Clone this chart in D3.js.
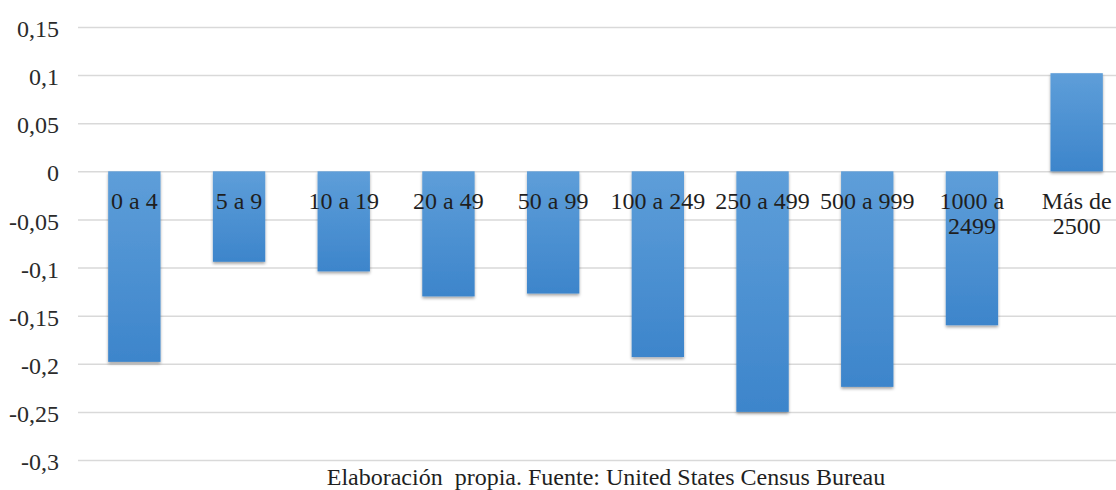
<!DOCTYPE html>
<html>
<head>
<meta charset="utf-8">
<script src="https://cdn.jsdelivr.net/npm/d3@7"></script>
<style>
  html, body { margin: 0; padding: 0; background: #fff; }
  svg { display: block; }
</style>
</head>
<body>
<script>
// Size classes (employees per establishment) and their change
const categories = ["0 a 4", "5 a 9", "10 a 19", "20 a 49", "50 a 99", "100 a 249",
                    "250 a 499", "500 a 999", "1000 a\n2499", "Más de\n2500"];
const values = [-0.198, -0.094, -0.104, -0.130, -0.127, -0.193, -0.250, -0.224, -0.160, 0.102];
const tickValues = [0.15, 0.1, 0.05, 0, -0.05, -0.1, -0.15, -0.2, -0.25, -0.3];
const caption = "Elaboración\u00a0 propia. Fuente: United States Census Bureau";

const W = 1116, H = 490;
const FONT = '"Liberation Serif", "Times New Roman", Times, serif';
const svg = d3.select("body").append("svg").attr("width", W).attr("height", H)
  .attr("font-family", FONT);

const defs = svg.append("defs");
const grad = defs.append("linearGradient").attr("id", "barFill")
  .attr("x1", 0).attr("y1", 0).attr("x2", 0).attr("y2", 1);
grad.append("stop").attr("offset", "0%").attr("stop-color", "#5e9ed9");
grad.append("stop").attr("offset", "100%").attr("stop-color", "#3d85cb");

const shadow = defs.append("filter").attr("id", "barShadow")
  .attr("x", "-20%").attr("y", "-10%").attr("width", "140%").attr("height", "130%");
shadow.append("feDropShadow").attr("dx", 0).attr("dy", 2).attr("stdDeviation", 1.6)
  .attr("flood-color", "#000").attr("flood-opacity", 0.35);

const y = d3.scaleLinear().domain([-0.3, 0.15]).range([460, 27]);
const x = d3.scaleBand().domain(categories).range([82, 1129])
  .paddingInner(0.5).paddingOuter(0.25);

const fmt = v => (v === 0 ? "0" : String(v).replace(".", ","));

// Horizontal gridlines and value axis
const yAxis = d3.axisLeft(y).tickValues(tickValues).tickSize(-(W - 78)).tickFormat(fmt);
const gy = svg.append("g").attr("transform", "translate(78,0)").call(yAxis)
  .attr("font-family", FONT).attr("font-size", 24);
gy.select(".domain").remove();
gy.selectAll(".tick line").attr("stroke", "#d9d9d9").attr("stroke-width", 1.5);
gy.selectAll(".tick text")
  .attr("x", -19).attr("dy", "0.4em")
  .attr("fill", "#2b2b2b");

// Bars
svg.append("g").selectAll("rect").data(values).join("rect")
  .attr("x", (d, i) => x(categories[i]))
  .attr("width", x.bandwidth())
  .attr("y", d => y(Math.max(0, d)))
  .attr("height", d => Math.abs(y(d) - y(0)))
  .attr("fill", "url(#barFill)")
  .attr("filter", "url(#barShadow)");

// Category labels, drawn just under the zero line
const lab = svg.append("g").selectAll("text").data(categories).join("text")
  .attr("x", d => x(d) + x.bandwidth() / 2)
  .attr("y", 209)
  .attr("text-anchor", "middle")
  .attr("font-size", 24)
  .attr("fill", "#1f1f1f");
lab.each(function(d) {
  const t = d3.select(this);
  d.split("\n").forEach((line, k) => {
    t.append("tspan").attr("x", x(d) + x.bandwidth() / 2)
      .attr("dy", k === 0 ? 0 : 25).text(line);
  });
});

// Source note
svg.append("text")
  .attr("x", 606).attr("y", 485)
  .attr("text-anchor", "middle")
  .attr("font-size", 24)
  .attr("fill", "#1f1f1f")
  .text(caption);
</script>
</body>
</html>
